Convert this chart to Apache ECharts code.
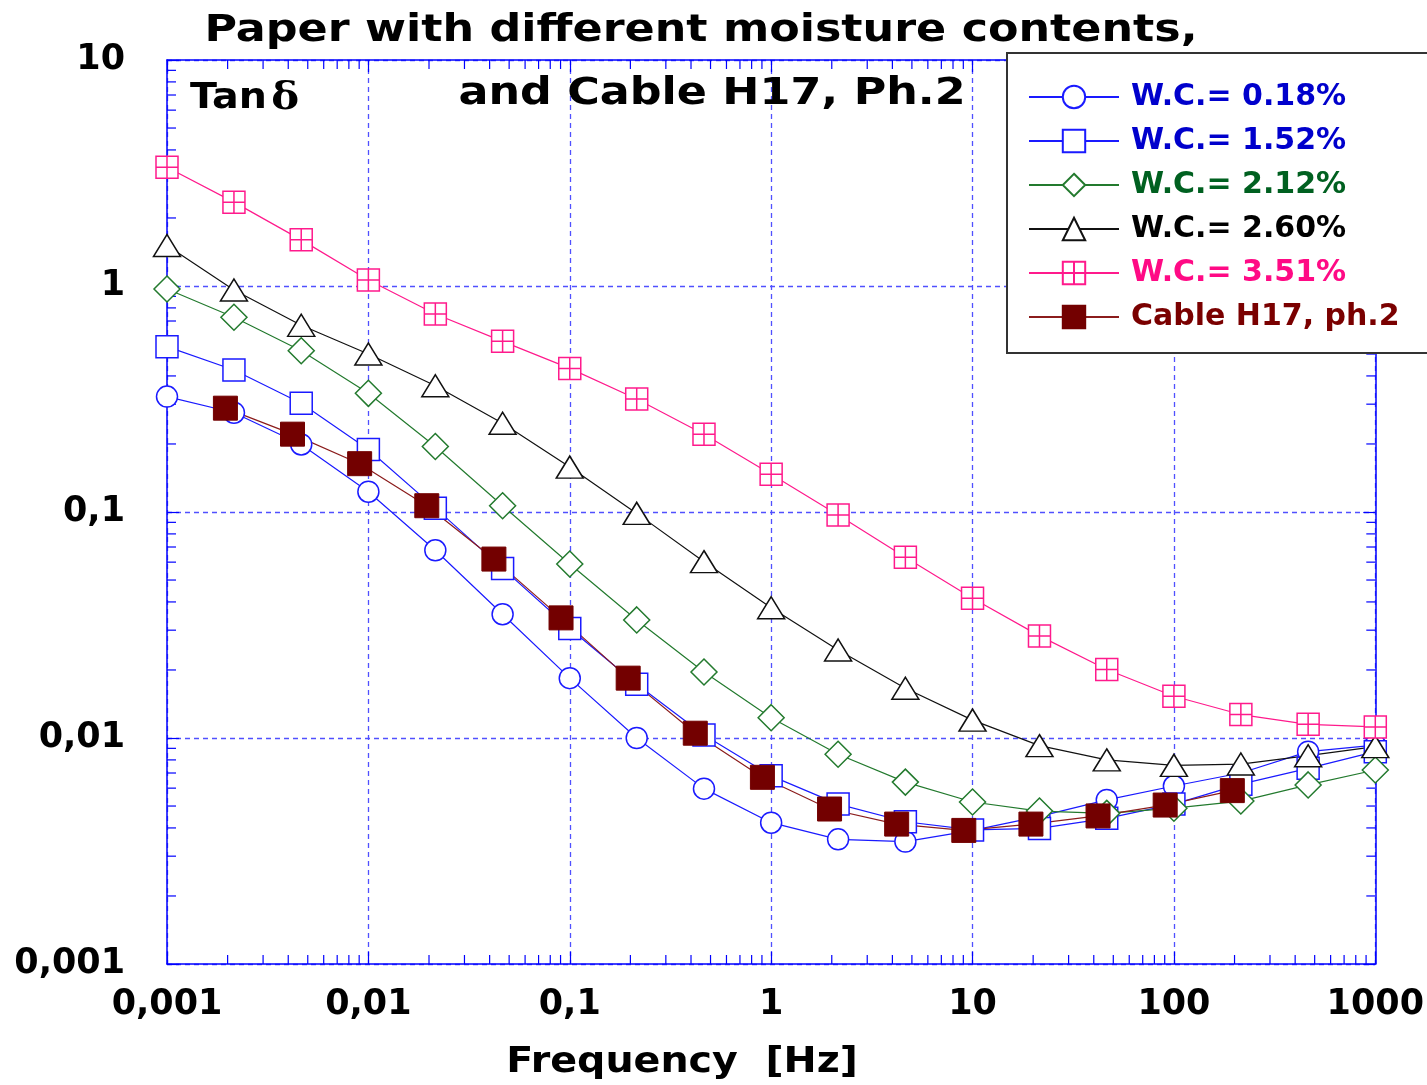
<!DOCTYPE html>
<html>
<head>
<meta charset="utf-8">
<script src="https://cdn.jsdelivr.net/npm/echarts@6/dist/echarts.min.js"></script>
<style>
html, body { margin: 0; padding: 0; background: #fff; }
#chart { width: 1427px; height: 1085px; }
</style>
</head>
<body>
<div id="chart"></div>
<script>
// frequencies of the paper samples (Hz)
const freqs = [0.001, 0.00215, 0.00464, 0.01, 0.0215, 0.0464, 0.1, 0.215, 0.464, 1,
    2.15, 4.64, 10, 21.5, 46.4, 100, 215, 464, 1000];
// tan delta per moisture content
const wc018 = [0.324, 0.275, 0.199, 0.123, 0.0677, 0.0353, 0.0184, 0.0100, 0.00597, 0.00422,
    0.00356, 0.00348, 0.0039, 0.0045, 0.00532, 0.00613, 0.0070, 0.0087, 0.0093];
const wc152 = [0.539, 0.425, 0.303, 0.189, 0.104, 0.0563, 0.0305, 0.0173, 0.0103, 0.0068,
    0.0051, 0.00426, 0.00392, 0.00398, 0.00441, 0.0051, 0.00625, 0.00734, 0.0087];
const wc212 = [0.97, 0.727, 0.517, 0.335, 0.195, 0.1066, 0.0589, 0.0333, 0.0196, 0.0123,
    0.00847, 0.00638, 0.00521, 0.00475, 0.00464, 0.00489, 0.00526, 0.0062, 0.00722];
const wc260 = [1.51, 0.96, 0.67, 0.50, 0.362, 0.247, 0.158, 0.0986, 0.0603, 0.0377,
    0.0245, 0.0166, 0.0120, 0.00925, 0.0080, 0.00757, 0.00767, 0.00835, 0.00916];
const wc351 = [3.35, 2.35, 1.60, 1.063, 0.752, 0.569, 0.432, 0.316, 0.221, 0.147,
    0.097, 0.063, 0.0415, 0.0283, 0.0201, 0.0153, 0.0127, 0.0115, 0.0112];
// cable H17, phase 2
const cableFreqs = [0.00195, 0.0042, 0.00905, 0.0195, 0.042, 0.0905, 0.195, 0.42, 0.905,
    1.95, 4.2, 9.05, 19.5, 42, 90.5, 195];
const cable = [0.288, 0.221, 0.1636, 0.1066, 0.0619, 0.034, 0.0184, 0.0105, 0.0067,
    0.00485, 0.00416, 0.0039, 0.00416, 0.00452, 0.00505, 0.00585];

const seriesNames = ['W.C.= 0.18%', 'W.C.= 1.52%', 'W.C.= 2.12%', 'W.C.= 2.60%', 'W.C.= 3.51%', 'Cable H17, ph.2'];
const xTickLabels = ['0,001', '0,01', '0,1', '1', '10', '100', '1000'];
const yTickLabels = ['0,001', '0,01', '0,1', '1', '10'];
const minorSteps = [2, 3, 4, 5, 6, 7, 8, 9];

const axisBlue = '#0000ff';
const gridBlue = '#5050ff';
const FONT = 'DejaVu Sans';

const xMinor = [];
for (let d = -3; d < 3; d++) minorSteps.forEach(m => xMinor.push([m * Math.pow(10, d), 1]));
const yMinor = [];
for (let d = -3; d < 1; d++) minorSteps.forEach(m => yMinor.push([1, m * Math.pow(10, d)]));

const chart = echarts.init(document.getElementById('chart'));

function pairs(xs, ys) {
    return ys.map((v, i) => [xs[i], v]);
}

function lineSeries(name, data, color, symbol, size, fill) {
    return {
        name: name,
        type: 'line',
        data: data,
        symbol: symbol,
        symbolSize: size,
        showAllSymbol: true,
        lineStyle: { color: color, width: 1.2 },
        itemStyle: { color: fill || '#fff', borderColor: color, borderWidth: 1.5 },
        z: 3
    };
}

// minor ticks on all four sides, placed through the axis scales
function tickRenderer(vertical) {
    return function (params, api) {
        const v = vertical ? api.value(1) : api.value(0);
        let a, b;
        if (vertical) {
            a = api.coord([0.001, v]);
            b = api.coord([1000, v]);
            return { type: 'group', children: [
                { type: 'line', shape: { x1: a[0], y1: a[1], x2: a[0] + 9, y2: a[1] }, style: { stroke: axisBlue, lineWidth: 1.2 } },
                { type: 'line', shape: { x1: b[0], y1: b[1], x2: b[0] - 9, y2: b[1] }, style: { stroke: axisBlue, lineWidth: 1.2 } }
            ] };
        }
        a = api.coord([v, 0.001]);
        b = api.coord([v, 10]);
        return { type: 'group', children: [
            { type: 'line', shape: { x1: a[0], y1: a[1], x2: a[0], y2: a[1] - 9 }, style: { stroke: axisBlue, lineWidth: 1.2 } },
            { type: 'line', shape: { x1: b[0], y1: b[1], x2: b[0], y2: b[1] + 9 }, style: { stroke: axisBlue, lineWidth: 1.2 } }
        ] };
    };
}

const logX = {
    type: 'log', logBase: 10, min: 0.001, max: 1000,
    axisLine: { show: true, lineStyle: { color: axisBlue, width: 1.5 } },
    axisTick: { show: true, inside: true, length: 12, lineStyle: { color: axisBlue, width: 1.2 } }
};
const logY = {
    type: 'log', logBase: 10, min: 0.001, max: 10,
    axisLine: { show: true, lineStyle: { color: axisBlue, width: 1.5 } },
    axisTick: { show: true, inside: true, length: 12, lineStyle: { color: axisBlue, width: 1.2 } }
};

const option = {
    animation: false,
    backgroundColor: '#fff',
    grid: { left: 167, right: 50, top: 60, bottom: 121 },
    xAxis: [
        Object.assign({}, logX, {
            position: 'bottom',
            splitLine: { show: true, lineStyle: { color: gridBlue, width: 1.3, type: [5, 4] } },
            axisLabel: {
                margin: 23, color: '#000', fontFamily: FONT, fontWeight: 'bold', fontSize: 35,
                formatter: v => xTickLabels[Math.round(Math.log10(v)) + 3]
            }
        }),
        Object.assign({}, logX, { position: 'top', splitLine: { show: false }, axisLabel: { show: false } })
    ],
    yAxis: [
        Object.assign({}, logY, {
            position: 'left',
            splitLine: { show: true, lineStyle: { color: gridBlue, width: 1.3, type: [5, 4] } },
            axisLabel: {
                margin: 42, color: '#000', fontFamily: FONT, fontWeight: 'bold', fontSize: 35,
                formatter: v => yTickLabels[Math.round(Math.log10(v)) + 3]
            }
        }),
        Object.assign({}, logY, { position: 'right', splitLine: { show: false }, axisLabel: { show: false } })
    ],
    legend: {
        orient: 'vertical',
        left: 1007,
        top: 53,
        padding: [29, 60, 21, 21],
        backgroundColor: '#fff',
        borderColor: '#333',
        borderWidth: 2,
        borderRadius: 0,
        itemWidth: 90,
        itemHeight: 28,
        itemGap: 14,
        selectedMode: false,
        textStyle: { fontFamily: FONT, fontWeight: 'bold', fontSize: 30, padding: [0, 0, 0, 7] },
        data: seriesNames.map((n, i) => ({
            name: n,
            textStyle: { color: ['#0000cc', '#0000cc', '#006020', '#000000', '#ff0a85', '#7a0000'][i] }
        }))
    },
    graphic: [
        { type: 'text', x: 701, y: 31, scaleX: 1.2, z: 10,
          style: { text: 'Paper with different moisture contents,', font: 'bold 37px ' + FONT, fill: '#000', textAlign: 'center', textVerticalAlign: 'middle' } },
        { type: 'text', x: 712, y: 94, scaleX: 1.2, z: 10,
          style: { text: 'and Cable H17, Ph.2', font: 'bold 37px ' + FONT, fill: '#000', textAlign: 'center', textVerticalAlign: 'middle' } },
        { type: 'text', x: 190, y: 99, scaleX: 1.1, z: 10,
          style: {
              text: '{a|Tan}{b|δ}', textVerticalAlign: 'middle',
              rich: {
                  a: { font: 'bold 36px ' + FONT, fill: '#000' },
                  b: { font: 'bold 38px "DejaVu Serif"', fill: '#000', padding: [0, 0, 0, 4] }
              }
          } },
        { type: 'text', x: 682, y: 1063, scaleX: 1.1, z: 10,
          style: { text: 'Frequency  [Hz]', font: 'bold 36px ' + FONT, fill: '#000', textAlign: 'center', textVerticalAlign: 'middle' } }
    ],
    series: [
        lineSeries(seriesNames[0], pairs(freqs, wc018), '#1a1aff', 'circle', 21),
        lineSeries(seriesNames[1], pairs(freqs, wc152), '#1a1aff', 'rect', 22),
        lineSeries(seriesNames[2], pairs(freqs, wc212), '#237a2e', 'diamond', 26),
        lineSeries(seriesNames[3], pairs(freqs, wc260), '#111111', 'triangle', [27, 22]),
        lineSeries(seriesNames[4], pairs(freqs, wc351), '#ff1a8c', 'path://M0,0H12V12H0Z M6,0V12 M0,6H12', 22),
        Object.assign(lineSeries(seriesNames[5], pairs(cableFreqs, cable), '#8b1c1c', 'rect', 24, '#730000'),
            { itemStyle: { color: '#730000', borderColor: '#730000', borderWidth: 1 } }),
        { type: 'custom', coordinateSystem: 'cartesian2d', data: xMinor, renderItem: tickRenderer(false), silent: true, clip: false, z: 1 },
        { type: 'custom', coordinateSystem: 'cartesian2d', data: yMinor, renderItem: tickRenderer(true), silent: true, clip: false, z: 1 }
    ]
};

chart.setOption(option);
</script>
</body>
</html>
